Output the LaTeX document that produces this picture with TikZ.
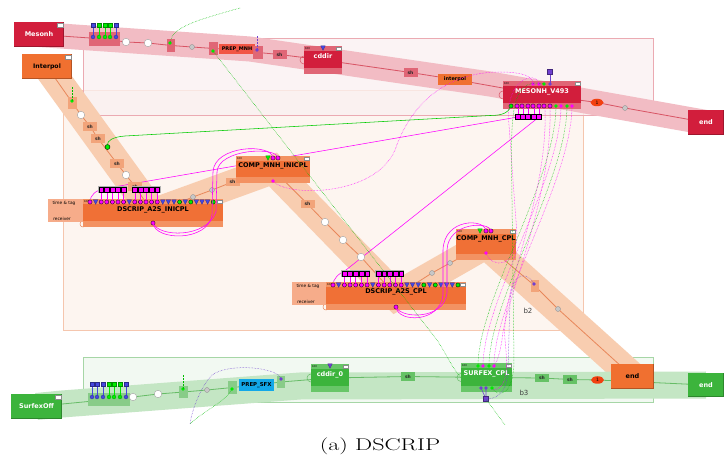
\documentclass[tikz,border=0pt]{standalone}
\usepackage{fontspec}
\newfontfamily\dvs{DejaVu Sans}
\usetikzlibrary{shapes.geometric}
\pgfdeclarelayer{bg}
\pgfdeclarelayer{lines}
\pgfsetlayers{bg,lines,main}
\definecolor{mred}{HTML}{D21E3C}
\definecolor{mredL}{HTML}{E06676}
\definecolor{tbandC}{HTML}{F2BCC4}
\definecolor{rlineC}{HTML}{D85464}
\definecolor{pregF}{HTML}{FAF0F1}
\definecolor{pregB}{HTML}{EBAAB2}
\definecolor{oregF}{HTML}{FDF5F0}
\definecolor{oregB}{HTML}{F5C6AE}
\definecolor{obandC}{HTML}{F8CDB0}
\definecolor{olineC}{HTML}{E8875A}
\definecolor{onode}{HTML}{F07036}
\definecolor{onodeL}{HTML}{F39262}
\definecolor{opanel}{HTML}{F6AC8A}
\definecolor{oshF}{HTML}{F2A47A}
\definecolor{gbandC}{HTML}{C4E6C4}
\definecolor{glineC}{HTML}{66BC66}
\definecolor{gnode}{HTML}{3CB43C}
\definecolor{gnodeL}{HTML}{68C668}
\definecolor{gregF}{HTML}{F2F9F2}
\definecolor{gregB}{HTML}{A6D6A6}
\definecolor{gshF}{HTML}{66C266}
\definecolor{gboxF}{HTML}{88CC88}
\definecolor{cyanC}{HTML}{12A8E8}
\definecolor{cM}{HTML}{FF00FF}
\definecolor{cG}{HTML}{00EE00}
\definecolor{cB}{HTML}{4646E0}
\definecolor{cP}{HTML}{7040D0}
\definecolor{ellC}{HTML}{F24010}
\definecolor{orangeC}{HTML}{F07030}
\definecolor{prepC}{HTML}{F25545}
\newcommand\bnode[9]{%
  \node[minimum width=#3,minimum height=#4,fill=#5] (#1) at #2 {};
  \fill[#6] ([yshift=-5.5pt]#1.north west) rectangle ([yshift=6pt]#1.south east);
  \node[font=\dvs\bfseries\fontsize{6.5}{7}\selectfont,text=#7] (#1-t) at ([yshift=#9]#1.center) {#8};
  \node[font=\dvs\fontsize{2.6}{3}\selectfont,anchor=west] (#1-h) at ([xshift=1pt,yshift=-2.7pt]#1.north west) {100};
  \node[minimum width=5pt,minimum height=3.6pt,fill=white,draw=black!45,line width=0.2pt,anchor=north east] (#1-w) at ([xshift=-1.2pt,yshift=-1pt]#1.north east) {};
}
\newcommand\bev[2]{\draw[#2,line width=1.2pt] ([yshift=0.6pt]#1.south west) -- ([xshift=-0.6pt,yshift=0.6pt]#1.south east) -- ([xshift=-0.6pt]#1.north east);}
\newcommand\win[1]{\node[fill=white,draw=black!45,line width=0.3pt,minimum width=6pt,minimum height=4.5pt,anchor=north east] (#1-w) at ([xshift=-1pt,yshift=-1pt]#1.north east) {};}
\begin{document}
\begin{tikzpicture}[x=1pt,y=-1pt,
  every node/.style={inner sep=0pt,outer sep=0pt},
  bigfont/.style={font=\dvs\bfseries\fontsize{6.5}{7}\selectfont},
  wcirc/.style={circle,minimum size=7.5pt,fill=white,draw=black!35,line width=0.4pt},
  gcirc/.style={circle,minimum size=5pt,fill=black!22,draw=black!45,line width=0.3pt},
  shlab/.style={minimum width=14pt,minimum height=8.5pt,font=\dvs\bfseries\fontsize{4.5}{5}\selectfont,text=black!85},
  shR/.style={shlab,fill=mredL},
  shO/.style={shlab,fill=oshF},
  shG/.style={shlab,fill=gshF},
  ell/.style={ellipse,fill=ellC,minimum width=13pt,minimum height=7.5pt,font=\dvs\fontsize{4.5}{5}\selectfont},
  tband/.style={tbandC,line width=25pt},
  oband/.style={obandC,line width=29pt},
  gband/.style={gbandC,line width=27pt},
  rline/.style={rlineC,line width=0.8pt},
  oline/.style={olineC,line width=0.8pt},
  gline/.style={glineC,line width=0.8pt},
  mcon/.style={cM,line width=0.55pt},
  mdot/.style={cM,line width=0.5pt,densely dotted},
  gdot/.style={cG!80!black,line width=0.5pt,densely dotted},
  pdot/.style={cP,line width=0.5pt,densely dotted},
  pics/dM/.style={code={\fill[cM,draw=black,line width=0.3pt] (0,0) circle (2.1pt);}},
  pics/dG/.style={code={\fill[cG,draw=black,line width=0.3pt] (0,0) circle (2.1pt);}},
  pics/sM/.style={code={\fill[cM] (0,0) circle (1.8pt);}},
  pics/sG/.style={code={\fill[cG] (0,0) circle (1.8pt);}},
  pics/sP/.style={code={\fill[cP] (0,0) circle (1.8pt);}},
  pics/dB/.style={code={\fill[cB,draw=cB!60!black,line width=0.2pt] (-2.3,-2.2) -- (2.3,-2.2) -- (0,2.4) -- cycle;}},
  pics/tG/.style={code={\fill[cG,draw=cG!60!black,line width=0.2pt] (-2.3,-2.2) -- (2.3,-2.2) -- (0,2.4) -- cycle;}},
  pics/tP/.style={code={\fill[cP,draw=cP!60!black,line width=0.2pt] (-2.3,-2.2) -- (2.3,-2.2) -- (0,2.4) -- cycle;}},
]
\useasboundingbox (0,0) rectangle (724,465);

% ================= top chain (red) =================
\node[bigfont,fill=mred,text=white,minimum width=50pt,minimum height=25pt] (mes) at (39,34.5) {Mesonh};
\bev{mes}{mred!75!black}\win{mes}
\node[fill=mredL,minimum width=31pt,minimum height=14pt] (mpb) at (104.5,39) {};
\foreach \x/\c in {93/cB,99/cG,105/cG,110/cG,116/cB}{
  \draw[\c,line width=0.5pt] (\x,25) -- (\x,37);
  \fill[\c,draw=\c!60!black,line width=0.2pt] (\x-2.2,22.8) rectangle (\x+2.2,27.2);
  \fill[\c,draw=\c!60!black,line width=0.2pt] (\x,37) circle (2pt);}
\node[wcirc] (wc1) at (126,42) {};
\node[wcirc] (wc2) at (148,43) {};
\node[fill=mredL,minimum width=8pt,minimum height=13pt] (b1) at (171,45.5) {};
\pic at (170,43) {sG};
\node[gcirc] (gc1) at (192,47) {};
\node[fill=mredL,minimum width=9pt,minimum height=13pt] (b2) at (213.5,48.5) {};
\pic at (213,51) {sG};
\node[fill=prepC,minimum width=36pt,minimum height=10pt,font=\dvs\bfseries\fontsize{5}{6}\selectfont] (prepm) at (237,49.5) {PREP\_MNH};
\node[fill=mredL,minimum width=10pt,minimum height=13pt] (b3) at (258,52.5) {};
\pic at (257,50) {sP};
\node[shR] (sh1) at (279.5,54.5) {sh};
\bnode{cddir}{(323,60)}{38pt}{28pt}{mredL}{mred}{white}{cddir}{4pt}
\pic at (323,48) {dB};
\node[shR] (sh2) at (410.5,72.5) {sh};
\node[fill=orangeC,minimum width=34pt,minimum height=11pt,font=\dvs\bfseries\fontsize{5}{6}\selectfont] (interp) at (455,79.5) {interpol};
\bnode{mv}{(542,95)}{78pt}{28pt}{mredL}{mred}{white}{MESONH\_V493}{3pt}
\node[ell] (el1) at (597,102.5) {1};
\node[gcirc] (gc2) at (625,108) {};
\node[bigfont,fill=mred,text=white,minimum width=36pt,minimum height=25pt] (endr) at (706,122.5) {end};
\bev{endr}{mred!75!black}
% MESONH ports
\draw[cP,line width=0.6pt] (550,72) -- (550,84);
\fill[cP,draw=cP!60!black,line width=0.2pt] (547.5,69.5) rectangle (552.5,74.5);
\pic at (533,84) {sM};\pic at (539,84) {sM};\pic at (544,84) {sG};\pic at (550,84) {sP};
\foreach \x in {518,523,528,534,539}{
  \draw[cM,line width=0.5pt] (\x,106) -- (\x,117);}
\fill[black!30] (514.7,114) rectangle (542.3,120);
\foreach \x in {518,523,528,534,539}{
  \fill[cM,draw=black,line width=0.3pt] (\x-2.4,114.6) rectangle (\x+2.4,119.4);}
\pic at (511,106) {dG};
\foreach \x in {517,522,528,533,539,544,550}{\pic at (\x,106) {dM};}
\pic at (556,106) {sG};\pic at (561,106) {sM};\pic at (567,106) {sG};\pic at (572,106) {sM};

% ================= orange chain =================
\node[bigfont,font=\dvs\bfseries\fontsize{6.2}{7}\selectfont,fill=orangeC,minimum width=50pt,minimum height=25pt] (interpol) at (47,66.5) {Interpol};
\bev{interpol}{orangeC!75!black}\win{interpol}
\node[fill=oshF,minimum width=9pt,minimum height=12pt] (ob1) at (72.5,103) {};
\pic at (72,101) {sG};
\node[wcirc] (owc1) at (81,115) {};
\node[shO] (osh1) at (90,126.5) {sh};
\node[shO] (osh2) at (98,138.5) {sh};
\node[circle,minimum size=5pt,fill=cG,draw=black,line width=0.4pt] (ogr) at (107.5,147) {};
\node[shO] (osh3) at (117,163.5) {sh};
\node[wcirc] (owc2) at (126,175) {};
\node[shO] (osh4) at (135,186.5) {sh};
% DSCRIP_A2S_INICPL
\node[fill=opanel,minimum width=35pt,minimum height=23pt] (dsip) at (65.5,210.5) {};
\node[font=\dvs\fontsize{4.3}{5}\selectfont] (dsip-a) at (64,203) {time \& tag};
\node[font=\dvs\fontsize{4.3}{5}\selectfont] (dsip-b) at (62,218.5) {receiver};
\bnode{dsi}{(153,213)}{140pt}{28pt}{onodeL}{onode}{black}{DSCRIP\_A2S\_INICPL}{3pt}
\node[gcirc] (ogc1) at (193,197) {};
\node[gcirc] (ogc2) at (212,190) {};
\node[shO] (osh5) at (232.5,182) {sh};
\bnode{cmi}{(273,169.5)}{74pt}{27pt}{onodeL}{onode}{black}{COMP\_MNH\_INICPL}{3.5pt}
\node[shO] (osh6) at (307.5,204) {sh};
\node[wcirc] (owc3) at (325,222) {};
\node[wcirc] (owc4) at (343,240) {};
\node[wcirc] (owc5) at (361,257) {};
% DSCRIP_A2S_CPL
\node[fill=opanel,minimum width=34pt,minimum height=23pt] (dscp) at (309,293.5) {};
\node[font=\dvs\fontsize{4.3}{5}\selectfont] (dscp-a) at (308,286) {time \& tag};
\node[font=\dvs\fontsize{4.3}{5}\selectfont] (dscp-b) at (306,301.5) {receiver};
\bnode{dsc}{(396,296)}{140pt}{28pt}{onodeL}{onode}{black}{DSCRIP\_A2S\_CPL}{4pt}
\node[gcirc] (ogc3) at (432,273) {};
\node[gcirc] (ogc4) at (450,263) {};
\bnode{cmc}{(486,244.5)}{60pt}{31pt}{onodeL}{onode}{black}{COMP\_MNH\_CPL}{5.5pt}
\node[fill=oshF,minimum width=8pt,minimum height=12pt] (ob2) at (535,286) {};
\pic at (534,284) {sP};
\node[gcirc] (ogc5) at (558,309) {};
\node[bigfont,fill=orangeC,minimum width=43pt,minimum height=25pt] (endo) at (632.5,376.5) {end};
\bev{endo}{orangeC!75!black}
\node[font=\dvs\fontsize{7}{8}\selectfont,text=black!75] (b2lab) at (528,311) {b2};

% ports of DSCRIP nodes
\foreach \t [count=\i from 0] in {M,B,M,M,M,M,M,B,M,M,M,M,M,B,B,B,G,B,G,B,B,B,G}{
  \ifx\t G \pic at (90+\i*5.6,202) {tG}; \pic at (333+\i*5.68,285) {tG};
  \else \pic at (90+\i*5.6,202) {d\t}; \pic at (333+\i*5.68,285) {d\t}; \fi}
\fill[black!30] (98.2,186.3) rectangle (127,192.7);
\fill[black!30] (131.8,186.3) rectangle (160.6,192.7);
\fill[black!30] (341.4,270.3) rectangle (370.3,276.7);
\fill[black!30] (375.4,270.3) rectangle (404.3,276.7);
\foreach \i in {2,...,6,8,9,10,11,12}{
  \draw[cM,line width=0.45pt] (90+\i*5.6,192) -- (90+\i*5.6,200);
  \fill[cM,draw=black,line width=0.3pt] (90+\i*5.6-2.4,187) rectangle (90+\i*5.6+2.4,192);
  \draw[cM,line width=0.45pt] (333+\i*5.68,276) -- (333+\i*5.68,283);
  \fill[cM,draw=black,line width=0.3pt] (333+\i*5.68-2.4,271) rectangle (333+\i*5.68+2.4,276);}
\pic at (153,223) {dM};
\pic at (396,307) {dM};
\pic at (268,158) {tG};\pic at (273,158) {dM};\pic at (278,158) {dM};
\pic at (273,181) {sM};
\pic at (480,231) {tG};\pic at (486,231) {dM};\pic at (491,231) {dM};
\pic at (486,253) {sM};

% ================= green chain =================
\node[bigfont,fill=gnode,text=white,minimum width=51pt,minimum height=25pt] (sof) at (36.5,406.5) {SurfexOff};
\bev{sof}{gnode!75!black}\win{sof}
\node[fill=gboxF,minimum width=42pt,minimum height=13pt] (gpb) at (109,399.5) {};
\foreach \x/\c in {92/cB,97/cB,103/cB,109/cG,114/cG,120/cG,126/cB}{
  \draw[\c,line width=0.5pt] (\x,384) -- (\x,397);
  \fill[\c,draw=\c!60!black,line width=0.2pt] (\x-2.2,381.8) rectangle (\x+2.2,386.2);
  \fill[\c,draw=\c!60!black,line width=0.2pt] (\x,397) circle (2pt);}
\node[wcirc] (gwc1) at (133,397) {};
\node[wcirc] (gwc2) at (158,394) {};
\node[fill=gboxF,minimum width=9pt,minimum height=12pt] (gb1) at (183.5,392) {};
\pic at (183,389) {sG};
\node[gcirc] (ggc1) at (207,390) {};
\node[fill=gboxF,minimum width=9pt,minimum height=13pt] (gb2) at (232.5,387.5) {};
\pic at (232,389) {sG};
\node[fill=cyanC,minimum width=35pt,minimum height=12pt,font=\dvs\bfseries\fontsize{5.4}{6}\selectfont] (psfx) at (256.5,385) {PREP\_SFX};
\node[fill=gboxF,minimum width=8pt,minimum height=12pt] (gb3) at (281,382) {};
\pic at (281,379) {sP};
\bnode{cd0}{(330,378)}{38pt}{28pt}{gnodeL}{gnode}{white}{cddir\_0}{3pt}
\pic at (330,366) {tP};
\node[shG] (gsh1) at (408,376.5) {sh};
\bnode{sfx}{(486.5,377.5)}{51pt}{29pt}{gnodeL}{gnode}{white}{SURFEX\_CPL}{3.5pt}
\pic at (478,366) {sG};\pic at (483,366) {sM};\pic at (489,366) {sG};\pic at (494,366) {sM};
\draw[cP,line width=0.6pt] (481,388) -- (486,399) -- (486,388);
\fill[cP,draw=cP!60!black,line width=0.2pt] (483.5,396.5) rectangle (488.5,401.5);
\pic at (481,388) {sP};\pic at (486,388) {sP};\pic at (492,388) {sG};
\node[shG] (gsh2) at (542,378) {sh};
\node[shG] (gsh3) at (570,379.5) {sh};
\node[ell] (el2) at (597.5,380) {1};
\node[bigfont,fill=gnode,text=white,minimum width=36pt,minimum height=24pt] (endg) at (706,385) {end};
\bev{endg}{gnode!75!black}
\node[font=\dvs\fontsize{7}{8}\selectfont,text=black!75] (b3lab) at (524,393) {b3};

% caption
\node[font=\fontsize{17}{20}\selectfont,xscale=1.42] (cap) at (380,446) {(a) DSCRIP};

% ================= background: regions and bands =================
\begin{pgfonlayer}{bg}
  \fill[white] (0,0) rectangle (724,465);
  \fill[oregF] (63,90) rectangle (583,330);
  \draw[oregB,line width=0.6pt] (63,90) rectangle (583,330);
  \fill[pregF,opacity=0.75] (83,38) rectangle (653,115);
  \draw[pregB,line width=0.6pt] (83,38) rectangle (653,115);
  \fill[gregF] (83,357) rectangle (653,402);
  \draw[gregB,line width=0.6pt] (83,357) rectangle (653,402);
  \draw[tband] (mes.center) -- (250,49) -- (490,84) -- (endr.center);
  \draw[oband] (interpol.center) -- (dsi.center);
  \draw[oband] (dsi.center) -- (cmi.center) -- (dsc.center) -- (cmc.center) -- (endo.center);
  \draw[gband] (sof.center) -- (62,404) -- (300,386) -- (endg.center);
\end{pgfonlayer}

% ================= chain lines =================
\begin{pgfonlayer}{lines}
  \draw[rline] (mes.center) -- (mpb.center) -- (wc1.center) -- (wc2.center) -- (b1.center) -- (gc1.center) -- (b2.center) -- (prepm.center) -- (b3.center) -- (sh1.center) -- (cddir.center) -- (sh2.center) -- (interp.center) -- (mv.center) -- (el1.center) -- (gc2.center) -- (endr.center);
  \draw[oline] (interpol.center) -- (ob1.center) -- (owc1.center) -- (osh1.center) -- (osh2.center) -- (osh3.center) -- (owc2.center) -- (osh4.center) -- (dsi.center);
  \draw[oline] (dsi.center) -- (ogc1.center) -- (ogc2.center) -- (osh5.center) -- (cmi.center) -- (osh6.center) -- (owc3.center) -- (owc4.center) -- (owc5.center) -- (dsc.center) -- (ogc3.center) -- (ogc4.center) -- (cmc.center) -- (ob2.center) -- (ogc5.center) -- (endo.center);
  \draw[gline] (sof.center) -- (gpb.center) -- (gwc1.center) -- (gwc2.center) -- (gb1.center) -- (ggc1.center) -- (gb2.center) -- (psfx.center) -- (gb3.center) -- (cd0.center) -- (gsh1.center) -- (sfx.center) -- (gsh2.center) -- (gsh3.center) -- (el2.center) -- (endg.center);
  % small self loops
  \draw[rlineC,line width=0.5pt] (cddir.west) circle (4pt);
  \draw[rlineC,line width=0.5pt] (mv.west) circle (4pt);
  \draw[glineC,line width=0.5pt] (cd0.west) circle (4pt);
  \draw[glineC,line width=0.5pt] (sfx.west) circle (4pt);
  \draw[olineC,line width=0.5pt] ([yshift=3pt]dsi.south west) circle (3pt);
  \draw[olineC,line width=0.5pt] ([yshift=3pt]dsc.south west) circle (3pt);
  % magenta straight lines passing behind nodes
  \coordinate (ms1) at (518,117);
  \coordinate (ms5) at (539,117);
  \coordinate (dsiA) at (90,202);
  \coordinate (dscA) at (333,285);
  \draw[mcon] (ms1) -- (105,188.5) .. controls (96,190) and (90,195) .. (dsiA);
  \draw[mcon] (ms5) -- (346,270) .. controls (338,274) and (333,279) .. (dscA);
\end{pgfonlayer}

% ================= foreground connections =================
\coordinate (dsiB) at (153,223);
\coordinate (dscB) at (396,307);
\coordinate (cmiT1) at (273,158);
\coordinate (cmiT2) at (278,158);
\coordinate (cmcT1) at (486,231);
\coordinate (cmcT2) at (491,231);
\coordinate (cmiB) at (273,181);
\coordinate (cmcB) at (486,253);
\draw[mcon] (dsiB) .. controls (155,241) and (208,242) .. (212,215) -- (213,172) .. controls (214,145) and (272,143) .. (cmiT1);
\draw[mcon] (dsiB) .. controls (158,237) and (206,239) .. (216,212) -- (217,172) .. controls (218,149) and (277,146) .. (cmiT2);
\draw[mcon] (dscB) .. controls (398,323) and (440,323) .. (443,295) -- (443,250) .. controls (444,218) and (485,218) .. (cmcT1);
\draw[mcon] (dscB) .. controls (401,319) and (444,320) .. (447,293) -- (447,250) .. controls (448,222) and (490,221) .. (cmcT2);
% dotted magenta
\draw[mdot] (cmiB) .. controls (286,197) and (375,197) .. (395,150) .. controls (412,100) and (450,72) .. (500,72) .. controls (522,72) and (533,76) .. (533,84);
\draw[mdot] (cmcB) .. controls (492,269) and (516,268) .. (517,235) -- (509,125) .. controls (504,78) and (536,70) .. (539,84);
% green solid
\coordinate (mvG) at (511,106);
\draw[cG!85!black,line width=0.55pt] (mvG) .. controls (508,114) and (500,115.5) .. (490,115.5) -- (125,136) .. controls (112,137) and (107.5,141) .. (ogr);
% vertical bundle MESONH -> SURFEX
\draw[gdot] (556,106) .. controls (556,180) and (478,300) .. (478,366);
\draw[mdot] (561,106) .. controls (561,180) and (483,300) .. (483,366);
\draw[gdot] (567,106) .. controls (567,180) and (489,300) .. (489,366);
\draw[mdot] (572,106) .. controls (572,180) and (494,300) .. (494,366);
\draw[mdot] (545,110) .. controls (548,200) and (500,290) .. (505,340) .. controls (507,360) and (510,390) .. (492,390);
\draw[gdot] (492,388) .. controls (498,398) and (514,396) .. (514,360) -- (512,200) .. controls (511,120) and (508,76) .. (544,84);
\draw[pdot] (534,284) .. controls (528,272) and (512,270) .. (510,300) -- (508,370) .. controls (507,395) and (495,399) .. (486,399);
\draw[mdot] (550,110) .. controls (552,200) and (505,300) .. (502,340) .. controls (500,352) and (498,360) .. (494,366);
% long green dotted
\draw[gdot] (213,51) -- (437,340) .. controls (447,355) and (452,368) .. (sfx.west);
\draw[gdot] (240,8) .. controls (190,22) and (172,28) .. (170,43);
\draw[gdot] (72,101) -- (72,87);
\draw[pdot] (257,50) -- (257,36);
\draw[gdot] (183,389) -- (183,374);
\draw[gdot] (232,389) .. controls (225,402) and (205,410) .. (190,424);
\draw[pdot] (281,379) .. controls (280,368) and (230,362) .. (212,375) .. controls (200,388) and (192,410) .. (190,424);
\draw[gdot] (486,399) -- (505,425);
\end{tikzpicture}
\end{document}
